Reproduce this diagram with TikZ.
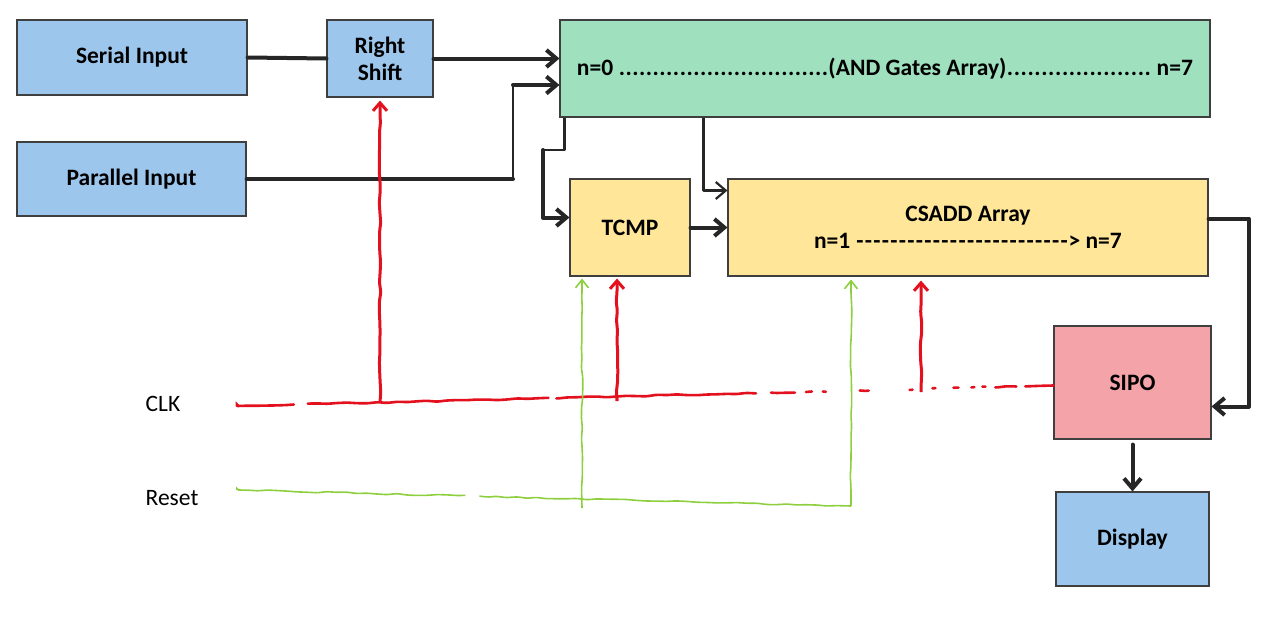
\documentclass[tikz,border=0pt]{standalone}
\usepackage{fontspec}
\setmainfont{Carlito}
\usepackage{xcolor}
\usepackage{tikz}
\usetikzlibrary{arrows.meta,decorations.pathmorphing}
\definecolor{bluef}{HTML}{9DC6EC}
\definecolor{greenf}{HTML}{9FE0BE}
\definecolor{yellf}{HTML}{FFE699}
\definecolor{pinkf}{HTML}{F4A3A8}
\definecolor{edgec}{HTML}{3F3F3F}
\definecolor{wirec}{HTML}{262626}
\definecolor{clkc}{HTML}{E3101D}
\definecolor{rstc}{HTML}{8ECF3F}
\newcommand\dotrun[1]{\xleaders\hbox to 6.6pt{\hss.\hss}\hskip #1\relax}
\newcommand\dashrun[1]{\xleaders\hbox to 8.5pt{\hss-\hss}\hskip #1\relax}
\tikzset{
  box/.style={draw=edgec,line width=1.1pt,inner sep=0pt,align=center,font=\bfseries\fontsize{23.5}{27}\selectfont},
  sigtxt/.style={font=\fontsize{23.5}{26}\selectfont},
  wire/.style={wirec,line width=4pt,line cap=round,line join=round},
  thinwire/.style={wirec,line width=2.2pt,line join=round},
  arr/.style={-{Straight Barb[length=10pt,width=17pt]}},
  hand/.style={decorate,decoration={random steps,segment length=10pt,amplitude=.8pt,post length=14pt},rounded corners=1.5pt},
  clkw/.style={clkc,line width=2.6pt,line cap=round},
  rstw/.style={rstc,line width=1.6pt},
  clkarr/.style={clkc,line width=3pt,-{Straight Barb[length=8pt,width=14pt]},hand},
  rstarr/.style={rstc,line width=1.6pt,-{Straight Barb[length=8pt,width=13pt]},hand}
}
\begin{document}
\begin{tikzpicture}[x=1pt,y=-1pt]
\pgfmathsetseed{11}
\useasboundingbox (0,0) rectangle (1280,616);
% blocks
\node[box,fill=bluef,minimum width=230,minimum height=75] (serial) at (132,57.5) {Serial Input};
\node[box,fill=bluef,minimum width=106,minimum height=77] (shift) at (380,58.5) {Right\\Shift};
\node[box,fill=greenf,minimum width=650,minimum height=97] (andarr) at (885,68.5)
  {n=0 \dotrun{210pt}(AND Gates Array)\dotrun{145pt} n=7};
\node[box,fill=bluef,minimum width=229,minimum height=74] (par) at (131.5,179) {Parallel Input};
\node[box,fill=yellf,minimum width=120,minimum height=97] (tcmp) at (630,227.5) {TCMP};
\node[box,fill=yellf,minimum width=480,minimum height=97] (csadd) at (968,227.5)
  {CSADD Array\\n=1 \dashrun{213pt}> n=7};
\node[box,fill=pinkf,minimum width=157,minimum height=113] (sipo) at (1132.5,382.5) {SIPO};
\node[box,fill=bluef,minimum width=153,minimum height=94] (disp) at (1132.5,539) {Display};
\node[sigtxt] (clk) at (163,404) {CLK};
\node[sigtxt] (rst) at (172,498) {Reset};

\coordinate (pjoin) at (513,85);
\coordinate (tjoin) at (543,150);
\coordinate (clkL) at (237,406);
\coordinate (ck1) at (380,402);
\coordinate (ck2) at (617,401);
\coordinate (ck3) at (921,392);
\coordinate (rstL) at (237,490);
\coordinate (rs1) at (582,508);
\coordinate (rs2) at (851,506);

% data path
\draw[wire] (serial.east) -- (shift.west);
\draw[wire,arr] (shift.east) -- (shift.east -| andarr.west);
\draw[wire] (par.east) -- (par.east -| pjoin);
\draw[thinwire] (par.east -| pjoin) -- (pjoin);
\draw[wire,arr] (pjoin) -- (pjoin -| andarr.west);
\draw[thinwire] ([xshift=5pt]andarr.south west) |- (tjoin);
\draw[wire,arr] (tjoin) |- ([yshift=10pt]tcmp.west);
\draw[thinwire,arr] ([xshift=144pt]andarr.south west) |- ([yshift=37pt]csadd.west);
\draw[wire,arr] (tcmp.east) -- (tcmp.east -| csadd.west);
\draw[wire,arr] ([yshift=9pt]csadd.east) -- ++(40,0) |- ([yshift=-24pt]sipo.east);
\draw[wire,arr] ([yshift=-5pt]sipo.south) -- (disp.north);

% clock and reset
\draw[clkw,hand,dash pattern=on 59pt off 14pt on 241pt off 8pt on 200pt off 15pt on 24pt off 11pt on 6pt off 11pt on 3pt off 34pt on 9pt off 41pt on 3pt off 20pt on 3pt off 18pt on 5pt off 13pt on 3pt off 8pt on 3pt off 10pt on 21pt off 9pt on 40pt]
  (clkL) -- ([yshift=-3pt]sipo.west);
\draw[clkarr] (ck1) -- ([yshift=-3pt]ck1 |- shift.south);
\draw[clkarr] (ck2) -- ([yshift=-2pt]ck2 |- tcmp.south);
\draw[clkarr] (ck3) -- ([yshift=-4pt]ck3 |- csadd.south);
\draw[rstw,hand,dash pattern=on 231pt off 14pt on 2000pt] (rstL) -- (rs2);
\draw[rstarr] (rs2) -- ([yshift=-3pt]rs2 |- csadd.south);
\draw[rstarr] (rs1) -- ([yshift=-2pt]rs1 |- tcmp.south);
\end{tikzpicture}
\end{document}
